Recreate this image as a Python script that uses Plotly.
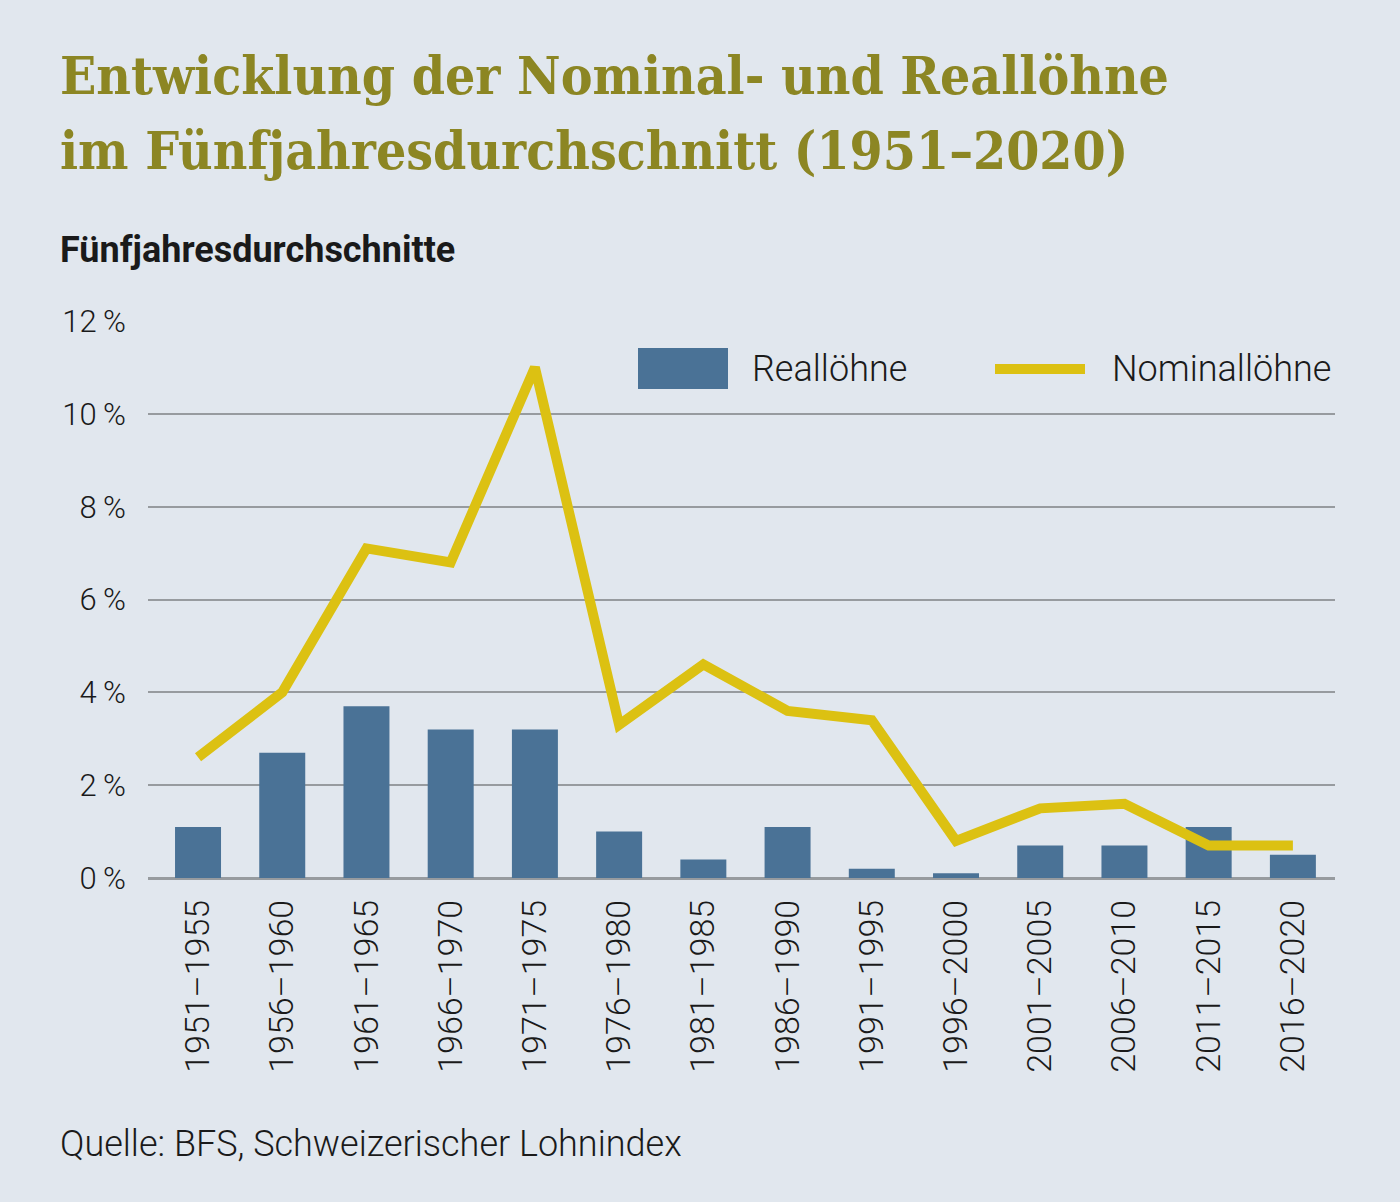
import plotly.graph_objects as go

categories = ["1951–1955", "1956–1960", "1961–1965", "1966–1970", "1971–1975",
              "1976–1980", "1981–1985", "1986–1990", "1991–1995", "1996–2000",
              "2001–2005", "2006–2010", "2011–2015", "2016–2020"]
reallohne = [1.1, 2.7, 3.7, 3.2, 3.2, 1.0, 0.4, 1.1, 0.2, 0.1, 0.7, 0.7, 1.1, 0.5]
nominallohne = [2.6, 4.0, 7.1, 6.8, 11.0, 3.3, 4.6, 3.6, 3.4, 0.8, 1.5, 1.6, 0.7, 0.7]
y_ticks = [0, 2, 4, 6, 8, 10, 12]
y_labels = ["0\u2009%", "2\u2009%", "4\u2009%", "6\u2009%", "8\u2009%", "10\u2009%", "12\u2009%"]

BG = "#E1E7EE"
BAR = "#4A7296"
LINE = "#DCC112"
TITLE = "#8C8623"
GRID = "#979B9F"
TXT = "#1a1a1a"

fig = go.Figure()
fig.add_trace(go.Bar(x=categories, y=reallohne, marker=dict(color=BAR, line=dict(width=0)),
                     name="Reallöhne", showlegend=False))
fig.add_trace(go.Scatter(x=categories, y=nominallohne, mode="lines",
                         line=dict(color=LINE, width=10), name="Nominallöhne", showlegend=False))

W, H = 1400, 1202
ml, mr, mt, mb = 148, 65, 321, 324

fig.update_layout(
    width=W, height=H,
    paper_bgcolor=BG, plot_bgcolor=BG,
    margin=dict(l=ml, r=mr, t=mt, b=mb),
    bargap=0.454,
    font=dict(family="Roboto", color=TXT),
    xaxis=dict(type="category", range=[-0.594, 13.5], showgrid=False, zeroline=False, showline=False,
               ticks="", tickangle=-90, ticklabelstandoff=14,
               tickfont=dict(family="Roboto Light, Roboto", size=34, color=TXT)),
    yaxis=dict(range=[0, 12], tickvals=y_ticks, ticktext=y_labels,
               showgrid=True, gridcolor=GRID, gridwidth=2,
               zeroline=True, zerolinecolor=GRID, zerolinewidth=3,
               showline=False, ticks="", ticklabelstandoff=21,
               tickfont=dict(family="Roboto Light, Roboto", size=31, color=TXT)),
)

def xp(x):  # page px -> paper fraction
    return (x - ml) / (W - ml - mr)
def yp(y):
    return (H - mb - y) / (H - mt - mb)

TFONT = "DejaVu Serif Condensed, DejaVu Serif"
annotations = [
    dict(text="<b>Entwicklung der Nominal- und Reallöhne</b>", x=xp(58), y=yp(108),
         xanchor="left", yanchor="bottom", font=dict(family=TFONT, size=53, color=TITLE)),
    dict(text="<b>im Fünfjahresdurchschnitt (1951–2020)</b>", x=xp(58), y=yp(183),
         xanchor="left", yanchor="bottom", font=dict(family=TFONT, size=53, color=TITLE)),
    dict(text="<b>Fünfjahresdurchschnitte</b>", x=xp(58), y=yp(250),
         xanchor="left", yanchor="middle", font=dict(family="Roboto", size=36, color=TXT)),
    dict(text="Quelle: BFS, Schweizerischer Lohnindex", x=xp(58), y=yp(1144),
         xanchor="left", yanchor="middle", font=dict(family="Roboto Light, Roboto", size=36, color=TXT)),
    dict(text="Reallöhne", x=xp(750), y=yp(369),
         xanchor="left", yanchor="middle", font=dict(family="Roboto Light, Roboto", size=36, color=TXT)),
    dict(text="Nominallöhne", x=xp(1110), y=yp(369),
         xanchor="left", yanchor="middle", font=dict(family="Roboto Light, Roboto", size=36, color=TXT)),
]
for a in annotations:
    a.update(xref="paper", yref="paper", showarrow=False)
fig.update_layout(annotations=annotations)

fig.add_shape(type="rect", xref="paper", yref="paper",
              x0=xp(638), x1=xp(728), y0=yp(389), y1=yp(348),
              fillcolor=BAR, line=dict(width=0))
fig.add_shape(type="line", xref="paper", yref="paper",
              x0=xp(995), x1=xp(1085), y0=yp(369), y1=yp(369),
              line=dict(color=LINE, width=10))

fig.write_html("out.html")
